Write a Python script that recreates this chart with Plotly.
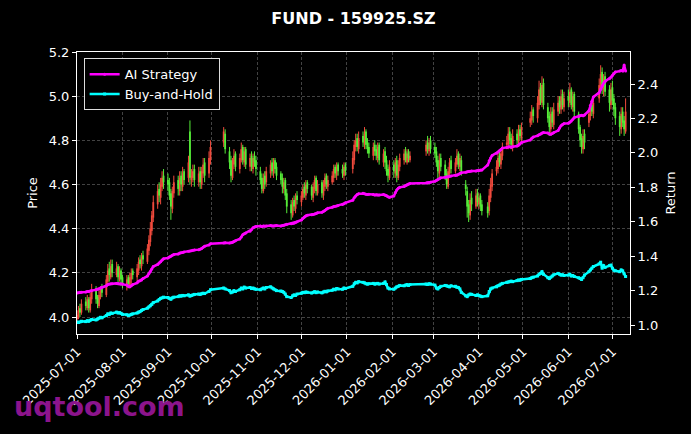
import pandas as pd
import plotly.graph_objects as go

# ---------------- data ----------------
holidays = ["2025-10-01", "2025-10-02", "2025-10-03", "2025-10-06", "2025-10-07", "2025-10-08",
            "2026-01-01", "2026-01-02", "2026-02-16", "2026-02-17", "2026-02-18", "2026-02-19",
            "2026-02-20", "2026-02-23", "2026-04-06", "2026-05-01", "2026-05-04", "2026-05-05",
            "2026-06-19"]
first_day = "2025-07-01"
last_day = "2026-07-10"

opens = [
    3.99, 4.00, 4.04, 4.02, 4.07, 4.04, 4.08, 4.03, 4.08, 4.13, 4.09, 4.05, 4.09, 4.13, 4.10, 4.16, 4.22, 4.18, 4.24, 4.19, 4.23, 4.17, 4.21,
    4.18, 4.14, 4.18, 4.14, 4.17, 4.21, 4.18, 4.21, 4.26, 4.23, 4.28, 4.25, 4.30, 4.34, 4.39, 4.45, 4.51, 4.58, 4.54, 4.59, 4.64,
    4.62, 4.61, 4.56, 4.49, 4.56, 4.62, 4.57, 4.64, 4.59, 4.66, 4.63, 4.84, 4.62, 4.63, 4.67, 4.61, 4.66, 4.60, 4.65, 4.70, 4.65, 4.71,
    4.79, 4.83, 4.75, 4.71, 4.63, 4.69, 4.74, 4.67, 4.71, 4.77, 4.70, 4.76, 4.68, 4.73, 4.67, 4.73, 4.71,
    4.66, 4.63, 4.57, 4.64, 4.61, 4.65, 4.70, 4.65, 4.71, 4.68, 4.65, 4.63, 4.58, 4.62, 4.56, 4.51, 4.46, 4.53, 4.49, 4.55,
    4.52, 4.54, 4.59, 4.55, 4.61, 4.59, 4.54, 4.58, 4.63, 4.56, 4.61, 4.55, 4.59, 4.64, 4.59, 4.61, 4.63, 4.68, 4.64, 4.69, 4.67, 4.64, 4.69,
    4.67, 4.71, 4.77, 4.81, 4.76, 4.82, 4.78, 4.84, 4.79, 4.77, 4.73, 4.78, 4.76, 4.72, 4.78, 4.70, 4.75, 4.71, 4.67, 4.63,
    4.69, 4.65, 4.71, 4.63, 4.68, 4.71, 4.75, 4.70, 4.75, 4.71, 4.75, 4.79, 4.75, 4.80,
    4.77, 4.75, 4.71, 4.65, 4.72, 4.69, 4.65, 4.59, 4.65, 4.71, 4.66, 4.69, 4.74, 4.68, 4.71, 4.60, 4.57, 4.51, 4.46, 4.54, 4.50, 4.56,
    4.51, 4.55, 4.51, 4.50, 4.48, 4.54, 4.59, 4.66, 4.67, 4.73, 4.69, 4.73, 4.78, 4.78, 4.84, 4.81, 4.77, 4.83, 4.79, 4.85, 4.81,
    4.88, 4.89, 4.94, 4.90, 4.96, 5.04, 4.97, 5.06, 4.95, 4.91, 4.85, 4.93, 4.87, 4.93, 4.98, 4.94, 5.01, 4.95,
    5.00, 4.97, 5.03, 4.95, 5.01, 4.92, 4.86, 4.81, 4.76, 4.83, 4.88, 4.91, 4.96, 4.92, 4.99, 5.04, 5.11, 5.03, 5.09, 5.03, 4.96,
    5.04, 4.99, 4.95, 4.91, 4.85, 4.93, 4.89, 4.84,
]
highs = [
    4.03, 4.05, 4.06, 4.08, 4.09, 4.10, 4.09, 4.11, 4.15, 4.14, 4.10, 4.12, 4.14, 4.15, 4.19, 4.24, 4.25, 4.26, 4.26, 4.25, 4.24, 4.23, 4.22,
    4.19, 4.19, 4.19, 4.20, 4.22, 4.22, 4.24, 4.27, 4.28, 4.29, 4.30, 4.33, 4.37, 4.43, 4.48, 4.55, 4.60, 4.61, 4.63, 4.66, 4.67,
    4.65, 4.63, 4.58, 4.59, 4.64, 4.64, 4.66, 4.66, 4.68, 4.67, 4.73, 4.89, 4.67, 4.69, 4.69, 4.68, 4.68, 4.68, 4.72, 4.72, 4.75, 4.80,
    4.86, 4.85, 4.77, 4.73, 4.72, 4.76, 4.75, 4.74, 4.79, 4.78, 4.77, 4.77, 4.74, 4.75, 4.74, 4.75, 4.73,
    4.68, 4.65, 4.65, 4.66, 4.68, 4.71, 4.72, 4.72, 4.72, 4.70, 4.66, 4.65, 4.63, 4.63, 4.58, 4.53, 4.54, 4.55, 4.56, 4.57,
    4.57, 4.60, 4.61, 4.62, 4.62, 4.60, 4.61, 4.64, 4.64, 4.62, 4.62, 4.62, 4.65, 4.65, 4.64, 4.66, 4.69, 4.69, 4.70, 4.70, 4.69, 4.70, 4.70,
    4.75, 4.80, 4.83, 4.83, 4.84, 4.84, 4.86, 4.85, 4.81, 4.79, 4.79, 4.80, 4.78, 4.79, 4.79, 4.76, 4.77, 4.73, 4.69, 4.71,
    4.71, 4.72, 4.73, 4.71, 4.74, 4.76, 4.77, 4.76, 4.76, 4.75, 4.80, 4.82, 4.81, 4.82,
    4.79, 4.77, 4.73, 4.74, 4.74, 4.71, 4.67, 4.68, 4.72, 4.73, 4.72, 4.76, 4.75, 4.74, 4.73, 4.62, 4.59, 4.53, 4.56, 4.57, 4.58, 4.58,
    4.56, 4.56, 4.53, 4.52, 4.58, 4.63, 4.67, 4.71, 4.75, 4.75, 4.76, 4.79, 4.82, 4.86, 4.86, 4.83, 4.85, 4.85, 4.87, 4.87, 4.88,
    4.93, 4.96, 4.95, 5.00, 5.07, 5.06, 5.09, 5.08, 4.97, 4.93, 4.95, 4.95, 4.97, 5.00, 5.00, 5.03, 5.03, 5.02,
    5.03, 5.06, 5.04, 5.02, 5.02, 4.93, 4.87, 4.83, 4.85, 4.85, 4.94, 4.97, 4.98, 4.99, 5.08, 5.14, 5.13, 5.10, 5.11, 5.05, 5.06,
    5.07, 5.01, 4.97, 4.93, 4.95, 4.95, 4.91, 4.99,
]
lows = [
    3.98, 3.99, 4.00, 4.01, 4.03, 4.03, 4.02, 4.02, 4.06, 4.06, 4.04, 4.04, 4.08, 4.09, 4.09, 4.14, 4.16, 4.17, 4.18, 4.18, 4.15, 4.16, 4.14,
    4.13, 4.12, 4.13, 4.13, 4.15, 4.17, 4.16, 4.19, 4.22, 4.21, 4.24, 4.24, 4.28, 4.32, 4.37, 4.43, 4.49, 4.52, 4.51, 4.57, 4.58,
    4.57, 4.53, 4.44, 4.47, 4.54, 4.55, 4.55, 4.57, 4.57, 4.60, 4.61, 4.60, 4.59, 4.61, 4.59, 4.59, 4.58, 4.58, 4.63, 4.61, 4.63, 4.69,
    4.77, 4.74, 4.67, 4.61, 4.62, 4.67, 4.66, 4.65, 4.70, 4.69, 4.68, 4.67, 4.66, 4.66, 4.65, 4.68, 4.64,
    4.60, 4.56, 4.56, 4.58, 4.59, 4.63, 4.64, 4.63, 4.65, 4.62, 4.60, 4.56, 4.56, 4.53, 4.47, 4.44, 4.45, 4.48, 4.47, 4.51,
    4.50, 4.53, 4.54, 4.53, 4.56, 4.53, 4.52, 4.56, 4.55, 4.55, 4.54, 4.53, 4.57, 4.58, 4.57, 4.60, 4.61, 4.63, 4.62, 4.64, 4.63, 4.62, 4.64,
    4.65, 4.69, 4.75, 4.75, 4.74, 4.77, 4.76, 4.76, 4.74, 4.72, 4.71, 4.73, 4.71, 4.70, 4.69, 4.68, 4.67, 4.64, 4.61, 4.62,
    4.63, 4.63, 4.61, 4.62, 4.66, 4.69, 4.70, 4.69, 4.70, 4.70, 4.73, 4.74, 4.73, 4.74,
    4.72, 4.68, 4.62, 4.63, 4.66, 4.62, 4.58, 4.58, 4.63, 4.65, 4.65, 4.68, 4.67, 4.66, 4.64, 4.55, 4.45, 4.43, 4.44, 4.48, 4.49, 4.50,
    4.49, 4.48, 4.46, 4.45, 4.46, 4.52, 4.57, 4.64, 4.65, 4.68, 4.67, 4.71, 4.76, 4.76, 4.78, 4.76, 4.75, 4.78, 4.77, 4.80, 4.79,
    4.86, 4.87, 4.88, 4.88, 4.94, 4.96, 4.95, 4.94, 4.88, 4.82, 4.83, 4.86, 4.85, 4.91, 4.92, 4.92, 4.94, 4.93,
    4.95, 4.95, 4.94, 4.93, 4.91, 4.83, 4.77, 4.74, 4.74, 4.76, 4.86, 4.89, 4.91, 4.90, 4.97, 5.02, 5.01, 5.00, 5.00, 4.93, 4.94,
    4.96, 4.91, 4.87, 4.82, 4.83, 4.86, 4.82, 4.83,
]
closes = [
    4.01, 4.03, 4.02, 4.06, 4.05, 4.08, 4.04, 4.09, 4.12, 4.08, 4.06, 4.10, 4.12, 4.11, 4.17, 4.21, 4.19, 4.23, 4.20, 4.22, 4.18, 4.20, 4.17,
    4.15, 4.17, 4.15, 4.18, 4.20, 4.19, 4.22, 4.25, 4.24, 4.27, 4.26, 4.31, 4.35, 4.40, 4.46, 4.52, 4.57, 4.55, 4.60, 4.63, 4.61,
    4.60, 4.55, 4.50, 4.57, 4.61, 4.58, 4.63, 4.60, 4.65, 4.62, 4.70, 4.63, 4.64, 4.66, 4.62, 4.65, 4.61, 4.66, 4.69, 4.64, 4.72, 4.77,
    4.84, 4.76, 4.70, 4.64, 4.70, 4.73, 4.68, 4.72, 4.76, 4.71, 4.75, 4.69, 4.72, 4.68, 4.72, 4.70, 4.67,
    4.62, 4.58, 4.63, 4.60, 4.66, 4.69, 4.66, 4.70, 4.67, 4.64, 4.62, 4.59, 4.61, 4.55, 4.50, 4.47, 4.52, 4.50, 4.54, 4.53,
    4.55, 4.58, 4.56, 4.60, 4.58, 4.55, 4.59, 4.62, 4.57, 4.60, 4.56, 4.60, 4.63, 4.60, 4.62, 4.64, 4.67, 4.65, 4.68, 4.66, 4.65, 4.68, 4.66,
    4.72, 4.78, 4.80, 4.77, 4.81, 4.79, 4.83, 4.78, 4.76, 4.74, 4.77, 4.75, 4.73, 4.77, 4.71, 4.74, 4.70, 4.66, 4.64, 4.68,
    4.66, 4.70, 4.64, 4.69, 4.72, 4.74, 4.71, 4.74, 4.72, 4.73, 4.78, 4.76, 4.79, 4.76,
    4.74, 4.70, 4.66, 4.71, 4.68, 4.64, 4.60, 4.66, 4.70, 4.67, 4.70, 4.73, 4.69, 4.72, 4.66, 4.58, 4.50, 4.47, 4.53, 4.51, 4.55, 4.52,
    4.54, 4.50, 4.48, 4.47, 4.55, 4.60, 4.65, 4.68, 4.72, 4.70, 4.74, 4.77, 4.79, 4.83, 4.80, 4.78, 4.82, 4.80, 4.84, 4.82, 4.86,
    4.90, 4.93, 4.91, 4.97, 5.03, 4.98, 5.05, 4.96, 4.90, 4.86, 4.92, 4.88, 4.94, 4.97, 4.95, 5.00, 4.96, 4.99,
    4.98, 5.02, 4.96, 5.00, 4.93, 4.85, 4.80, 4.77, 4.82, 4.79, 4.92, 4.95, 4.93, 4.97, 5.05, 5.10, 5.04, 5.08, 5.02, 4.97, 5.03,
    4.98, 4.94, 4.90, 4.86, 4.92, 4.88, 4.85, 4.93,
]
ai_strategy = [
    1.186, 1.188, 1.190, 1.190, 1.192, 1.195, 1.195, 1.198, 1.200, 1.205, 1.208, 1.210, 1.215, 1.220, 1.228, 1.235, 1.238, 1.240, 1.240, 1.242, 1.240, 1.238, 1.240,
    1.238, 1.232, 1.225, 1.222, 1.228, 1.235, 1.245, 1.255, 1.258, 1.262, 1.270, 1.285, 1.298, 1.310, 1.325, 1.340, 1.352, 1.360, 1.368, 1.378, 1.385,
    1.390, 1.395, 1.400, 1.405, 1.410, 1.412, 1.418, 1.420, 1.422, 1.425, 1.428, 1.430, 1.432, 1.435, 1.436, 1.438, 1.440, 1.445, 1.452, 1.458, 1.465, 1.472,
    1.476, 1.478, 1.476, 1.478, 1.480, 1.485, 1.490, 1.500, 1.512, 1.525, 1.530, 1.535, 1.545, 1.555, 1.565, 1.570, 1.572,
    1.575, 1.572, 1.575, 1.574, 1.576, 1.578, 1.576, 1.575, 1.577, 1.578, 1.576, 1.578, 1.580, 1.582, 1.585, 1.588, 1.590, 1.592, 1.595, 1.600,
    1.610, 1.620, 1.628, 1.634, 1.638, 1.640, 1.642, 1.645, 1.648, 1.652, 1.655, 1.660, 1.666, 1.672, 1.678, 1.684, 1.688, 1.690, 1.692, 1.695, 1.700, 1.705, 1.710,
    1.725, 1.740, 1.750, 1.758, 1.762, 1.765, 1.762, 1.760, 1.758, 1.760, 1.758, 1.755, 1.757, 1.755, 1.756, 1.758, 1.755, 1.752, 1.745, 1.742,
    1.750, 1.770, 1.785, 1.795, 1.800, 1.805, 1.810, 1.815, 1.820, 1.822, 1.825, 1.826, 1.828, 1.830,
    1.835, 1.840, 1.845, 1.850, 1.855, 1.858, 1.860, 1.862, 1.864, 1.866, 1.868, 1.870, 1.875, 1.880, 1.885, 1.888, 1.890, 1.892, 1.893, 1.895, 1.895, 1.897,
    1.898, 1.900, 1.900, 1.930, 1.955, 1.970, 1.985, 1.998, 2.005, 2.012, 2.020, 2.028, 2.032, 2.035, 2.035, 2.033, 2.036, 2.040, 2.045, 2.052, 2.060,
    2.075, 2.085, 2.092, 2.100, 2.105, 2.110, 2.115, 2.118, 2.115, 2.110, 2.108, 2.112, 2.118, 2.130, 2.145, 2.158, 2.165, 2.170,
    2.172, 2.178, 2.185, 2.195, 2.205, 2.212, 2.215, 2.218, 2.215, 2.220, 2.245, 2.275, 2.300, 2.325, 2.350, 2.370, 2.390, 2.405, 2.415, 2.430, 2.440,
    2.450, 2.460, 2.470, 2.475, 2.478, 2.476, 2.510, 2.475,
]
buy_and_hold = [
    1.017, 1.015, 1.018, 1.022, 1.020, 1.025, 1.022, 1.028, 1.032, 1.030, 1.035, 1.040, 1.045, 1.042, 1.055, 1.065, 1.062, 1.070, 1.068, 1.075, 1.070, 1.072, 1.068,
    1.062, 1.060, 1.055, 1.058, 1.062, 1.065, 1.070, 1.075, 1.078, 1.085, 1.090, 1.098, 1.105, 1.112, 1.120, 1.130, 1.140, 1.148, 1.155, 1.158, 1.162,
    1.160, 1.155, 1.150, 1.158, 1.162, 1.165, 1.170, 1.168, 1.172, 1.170, 1.175, 1.168, 1.172, 1.175, 1.178, 1.180, 1.178, 1.182, 1.185, 1.183, 1.195, 1.205,
    1.215, 1.210, 1.200, 1.188, 1.192, 1.200, 1.195, 1.205, 1.215, 1.210, 1.220, 1.215, 1.218, 1.212, 1.215, 1.210, 1.208,
    1.205, 1.210, 1.215, 1.210, 1.218, 1.222, 1.215, 1.210, 1.205, 1.200, 1.198, 1.195, 1.190, 1.180, 1.165, 1.160, 1.170, 1.175, 1.172, 1.180,
    1.185, 1.190, 1.188, 1.192, 1.190, 1.186, 1.190, 1.194, 1.188, 1.192, 1.187, 1.192, 1.196, 1.193, 1.198, 1.202, 1.208, 1.205, 1.212, 1.210, 1.208, 1.215, 1.212,
    1.225, 1.240, 1.248, 1.245, 1.252, 1.248, 1.245, 1.240, 1.238, 1.240, 1.242, 1.238, 1.240, 1.242, 1.238, 1.242, 1.250, 1.235, 1.215, 1.210,
    1.208, 1.215, 1.222, 1.225, 1.230, 1.228, 1.232, 1.235, 1.230, 1.235, 1.238, 1.236, 1.240, 1.238,
    1.232, 1.215, 1.210, 1.218, 1.225, 1.230, 1.228, 1.225, 1.222, 1.228, 1.225, 1.220, 1.218, 1.210, 1.190, 1.170, 1.165, 1.175, 1.180, 1.178, 1.172, 1.175,
    1.172, 1.168, 1.165, 1.170, 1.195, 1.210, 1.215, 1.222, 1.228, 1.232, 1.238, 1.242, 1.248, 1.250, 1.252, 1.255, 1.252, 1.258, 1.262, 1.260, 1.265,
    1.270, 1.275, 1.278, 1.285, 1.295, 1.300, 1.310, 1.295, 1.275, 1.270, 1.278, 1.285, 1.292, 1.300, 1.295, 1.290, 1.292, 1.288,
    1.290, 1.295, 1.285, 1.288, 1.282, 1.275, 1.270, 1.265, 1.275, 1.290, 1.310, 1.320, 1.330, 1.340, 1.355, 1.365, 1.330, 1.345, 1.335, 1.345, 1.348,
    1.330, 1.318, 1.315, 1.310, 1.320, 1.315, 1.298, 1.282,
]
tick_dates = ["2025-07-01", "2025-08-01", "2025-09-01", "2025-10-01", "2025-11-01", "2025-12-01",
              "2026-01-01", "2026-02-01", "2026-03-01", "2026-04-01", "2026-05-01", "2026-06-01",
              "2026-07-01"]
price_ticks = [4.0, 4.2, 4.4, 4.6, 4.8, 5.0, 5.2]
return_ticks = [1.0, 1.2, 1.4, 1.6, 1.8, 2.0, 2.2, 2.4]

# ---------------- build ----------------
days = [d for d in pd.bdate_range(first_day, last_day) if d.strftime("%Y-%m-%d") not in holidays]
lens = [len(days), len(opens), len(highs), len(lows), len(closes), len(ai_strategy), len(buy_and_hold)]
assert len(set(lens)) == 1, lens

UP = "#f04a3c"
DOWN = "#55ec38"
FONT = "DejaVu Sans"
GRID = "rgba(120,120,120,0.55)"

def segments(kind, up):
    xs, ys = [], []
    for d, o, h, l, c in zip(days, opens, highs, lows, closes):
        if (c >= o) != up:
            continue
        if kind == "wick":
            xs += [d, d, None]; ys += [l, h, None]
        else:
            lo, hi = (o, c) if c >= o else (c, o)
            if hi - lo < 0.004:
                hi = lo + 0.004
            xs += [d, d, None]; ys += [lo, hi, None]
    return xs, ys

fig = go.Figure()
for up, col in ((True, UP), (False, DOWN)):
    x, y = segments("wick", up)
    fig.add_trace(go.Scatter(x=x, y=y, mode="lines", line=dict(color=col, width=1),
                             showlegend=False, hoverinfo="skip", connectgaps=False))
    x, y = segments("body", up)
    fig.add_trace(go.Scatter(x=x, y=y, mode="lines", line=dict(color=col, width=1.8),
                             showlegend=False, hoverinfo="skip", connectgaps=False))

fig.add_trace(go.Scatter(x=days, y=ai_strategy, yaxis="y2", name="AI Strategy",
                         mode="lines+markers", line=dict(color="#ff00ff", width=2.5),
                         marker=dict(symbol="circle", size=3, color="#ff00ff")))
fig.add_trace(go.Scatter(x=days, y=buy_and_hold, yaxis="y2", name="Buy-and-Hold",
                         mode="lines+markers", line=dict(color="#00ffff", width=2.5),
                         marker=dict(symbol="square", size=3, color="#00ffff")))

axis_common = dict(showline=True, linecolor="white", linewidth=1, ticks="outside",
                   ticklen=4, tickwidth=1, tickcolor="white",
                   tickfont=dict(family=FONT, size=13, color="white"), zeroline=False)

fig.update_layout(
    width=691, height=434,
    margin=dict(l=77, r=61, t=52, b=100, autoexpand=False),
    paper_bgcolor="black", plot_bgcolor="black",
    font=dict(family=FONT, color="white", size=13),
    title=dict(text="<b>FUND - 159925.SZ</b>", x=0.5, xref="paper", xanchor="center",
               y=1 - 18 / 434, yref="container", yanchor="middle",
               font=dict(family=FONT, size=16, color="white")),
    xaxis=dict(type="date", range=["2025-07-01", "2026-07-13"],
               tickvals=tick_dates, ticktext=tick_dates, tickangle=-45,
               mirror=True, showgrid=True, gridcolor=GRID,
               gridwidth=0.7, griddash="3px,2px", **axis_common),
    yaxis=dict(range=[3.923, 5.2], tickvals=price_ticks,
               ticktext=[f"{v:.1f}" for v in price_ticks],
               title=dict(text="Price", standoff=8, font=dict(family=FONT, size=13, color="white")),
               mirror=True, showgrid=True, gridcolor=GRID,
               gridwidth=0.7, griddash="3px,2px", **axis_common),
    yaxis2=dict(overlaying="y", side="right", range=[0.948, 2.586], tickvals=return_ticks,
                ticktext=[f"{v:.1f}" for v in return_ticks],
                title=dict(text="Return", standoff=8, font=dict(family=FONT, size=13, color="white")),
                showgrid=False, **axis_common),
    legend=dict(x=0.012, y=0.978, xanchor="left", yanchor="top",
                bgcolor="black", bordercolor="#dddddd", borderwidth=1,
                font=dict(family=FONT, size=13, color="white"),
                itemwidth=30, tracegroupgap=0),
    annotations=[dict(text="<b>uqtool.com</b>", xref="paper", yref="paper",
                      x=(12 - 77) / 553, y=(334 - 407) / 282, xanchor="left", yanchor="middle",
                      showarrow=False, font=dict(family=FONT, size=27, color="#8c148c"))],
)

fig.write_html("out.html", config={"displayModeBar": False},
               post_script="document.body.style.margin='0';document.body.style.overflow='hidden';")
